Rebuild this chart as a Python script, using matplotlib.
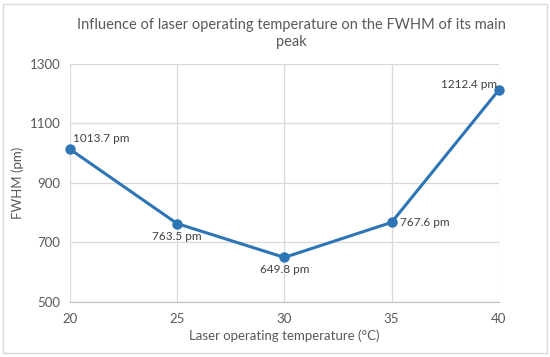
import matplotlib
matplotlib.use('Agg')
import matplotlib.pyplot as plt
from matplotlib.patches import Rectangle

plt.rcParams['font.family'] = ['Lato', 'DejaVu Sans']

# data
temps = [20, 25, 30, 35, 40]
fwhm = [1013.7, 763.5, 649.8, 767.6, 1212.4]
labels = ['1013.7 pm', '763.5 pm', '649.8 pm', '767.6 pm', '1212.4 pm']
yticks = [500, 700, 900, 1100, 1300]

grey = '#595959'
blue = '#2E75B6'

fig = plt.figure(figsize=(5.5, 3.57), dpi=100)
ax = fig.add_axes([0.127, 0.154, 0.780, 0.667])

ax.plot(temps, fwhm, color=blue, lw=2.2, marker='o', ms=6.5, zorder=3, clip_on=False)

# data labels
offsets = [(2, 4, 'left', 'bottom'), (0, -5, 'center', 'top'), (0, -5, 'center', 'top'),
           (6, 0, 'left', 'center'), (-1, 4, 'right', 'center')]
for x, y, lab, (dx, dy, ha, va) in zip(temps, fwhm, labels, offsets):
    ax.annotate(lab, (x, y), xytext=(dx, dy), textcoords='offset points',
                ha=ha, va=va, fontsize=8.5, color='#404040')

ax.set_xlim(20, 40)
ax.set_ylim(500, 1300)
ax.set_xticks(temps)
ax.set_yticks(yticks)
ax.grid(True, color='#D9D9D9', lw=0.9)
ax.set_axisbelow(True)
for s in ['top', 'right', 'left']:
    ax.spines[s].set_visible(False)
ax.spines['bottom'].set_color('#BFBFBF')
ax.tick_params(length=0, labelsize=9.5, colors=grey)
ax.tick_params(axis='x', pad=8)
ax.tick_params(axis='y', pad=7)

ax.set_xlabel('Laser operating temperature (°C)', fontsize=9.5, color=grey, labelpad=3)
ax.set_ylabel('FWHM (pm)', fontsize=9.5, color=grey, labelpad=4)
fig.text(0.53, 0.95, 'Influence of laser operating temperature on the FWHM of its main\npeak',
         ha='center', va='top', fontsize=10.5, color=grey, linespacing=1.3)

fig.patches.append(Rectangle((0.006, 0.012), 0.988, 0.978, transform=fig.transFigure,
                             fill=False, ec='#D9D9D9', lw=1))

fig.savefig('out.png', dpi=100)
